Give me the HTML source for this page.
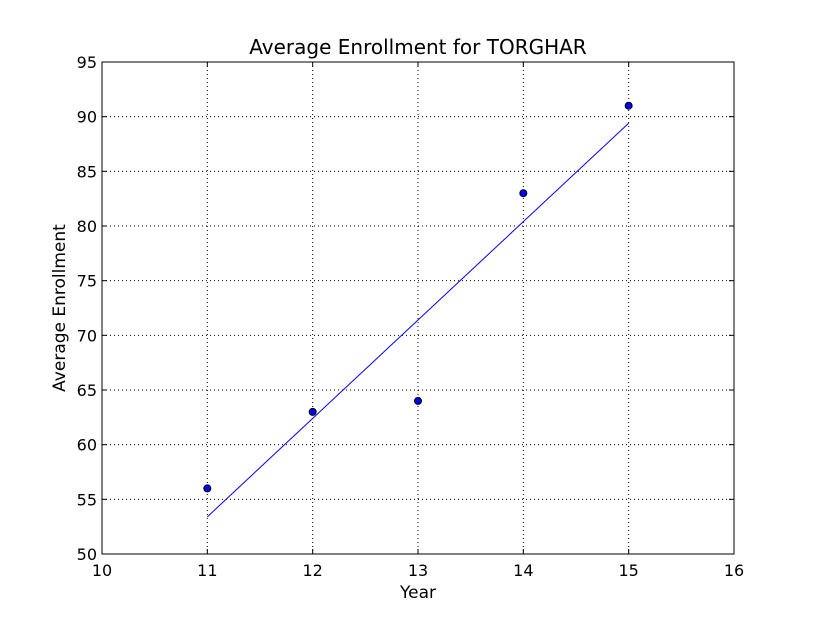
<!DOCTYPE html>
<html><head><meta charset="utf-8"><style>
body{margin:0;background:#fff;}
svg text{font-family:"DejaVu Sans","Liberation Sans",sans-serif;fill:#000;}
</style></head><body>
<svg id="chart" width="815" height="615" xmlns="http://www.w3.org/2000/svg">
<rect width="815" height="615" fill="#fff"/>
<g id="grid"></g>
<g id="ticks"></g>
<g id="marks"></g>
<rect x="102" y="62" width="632" height="492" fill="none" stroke="#000" stroke-width="1"/>
<text x="418" y="54" font-size="20" text-anchor="middle">Average Enrollment for TORGHAR</text>
<text x="418" y="598" font-size="17" text-anchor="middle">Year</text>
<text x="65" y="308" font-size="17" text-anchor="middle" transform="rotate(-90 65 308)">Average Enrollment</text>
</svg>
<script>
const years = [11, 12, 13, 14, 15];
const enrollment = [56, 63, 64, 83, 91];
const xTicks = [10, 11, 12, 13, 14, 15, 16];
const yTicks = [50, 55, 60, 65, 70, 75, 80, 85, 90, 95];
const L=102,R=734,T=62,B=554;
const xs=v=>L+(v-10)/6*(R-L);
const ys=v=>B-(v-50)/45*(B-T);
const NS="http://www.w3.org/2000/svg";
function mk(tag,attrs,parent,txt){const e=document.createElementNS(NS,tag);for(const k in attrs)e.setAttribute(k,attrs[k]);if(txt!==undefined)e.textContent=txt;document.getElementById(parent).appendChild(e);return e;}
xTicks.forEach(v=>{const x=xs(v);
 let g=mk('line',{x1:x,x2:x,y1:T,y2:B,stroke:'#000','stroke-dasharray':'1,3','stroke-width':1},'grid');
 
 
 let t1=mk('line',{x1:x,x2:x,y1:B,y2:B-5,stroke:'#000'},'ticks');
 
 
 let t2=mk('line',{x1:x,x2:x,y1:T,y2:T+5,stroke:'#000'},'ticks');
 
 
 let lb=mk('text',{x:x,y:B+22,'font-size':16,'text-anchor':'middle'},'ticks',v);
 
 
});
yTicks.forEach(v=>{const y=ys(v);
 let g=mk('line',{x1:L,x2:R,y1:y,y2:y,stroke:'#000','stroke-dasharray':'1,3','stroke-width':1},'grid');
 
 
 let t1=mk('line',{x1:L,x2:L+5,y1:y,y2:y,stroke:'#000'},'ticks');
 
 
 let t2=mk('line',{x1:R,x2:R-5,y1:y,y2:y,stroke:'#000'},'ticks');
 
 
 let lb=mk('text',{x:L-5,y:y+6,'font-size':16,'text-anchor':'end'},'ticks',v);
 
 
});
const n=years.length,mx=years.reduce((a,b)=>a+b)/n,my=enrollment.reduce((a,b)=>a+b)/n;
let sxy=0,sxx=0;years.forEach((x,i)=>{sxy+=(x-mx)*(enrollment[i]-my);sxx+=(x-mx)**2;});
const slope=sxy/sxx,icpt=my-slope*mx;
const x0=Math.min(...years),x1=Math.max(...years);
let fl=mk('line',{x1:xs(x0),y1:ys(icpt+slope*x0),x2:xs(x1),y2:ys(icpt+slope*x1),stroke:'#0000ff','stroke-width':1},'marks');


years.forEach((x,i)=>{
 let c=mk('circle',{cx:xs(x),cy:ys(enrollment[i]),r:3.5,fill:'#0000ff',stroke:'#000','stroke-width':1},'marks');
 
 
});
</script>
</body></html>
